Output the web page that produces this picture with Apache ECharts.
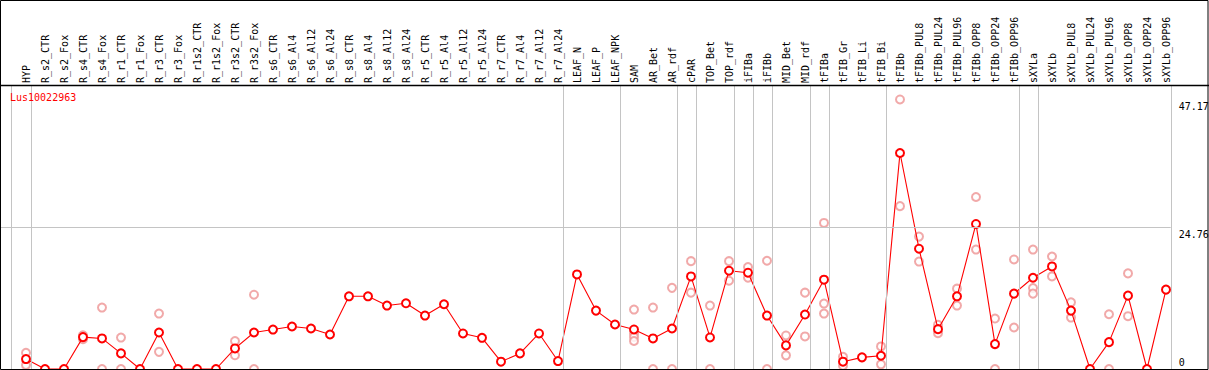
<!DOCTYPE html>
<html><head><meta charset="utf-8">
<script src="https://cdn.jsdelivr.net/npm/echarts@6/dist/echarts.min.js"></script>
<style>html,body{margin:0;padding:0;background:#fff}#c{width:1209px;height:370px}</style>
</head><body><div id="c"></div>
<script>
const geneName = 'Lus10022963';
const categories = ['HYP','R_s2_CTR','R_s2_Fox','R_s4_CTR','R_s4_Fox','R_r1_CTR','R_r1_Fox','R_r3_CTR','R_r3_Fox','R_r1s2_CTR','R_r1s2_Fox','R_r3s2_CTR','R_r3s2_Fox','R_s6_CTR','R_s6_Al4','R_s6_Al12','R_s6_Al24','R_s8_CTR','R_s8_Al4','R_s8_Al12','R_s8_Al24','R_r5_CTR','R_r5_Al4','R_r5_Al12','R_r5_Al24','R_r7_CTR','R_r7_Al4','R_r7_Al12','R_r7_Al24','LEAF_N','LEAF_P','LEAF_NPK','SAM','AR_Bet','AR_rdf','cPAR','TOP_Bet','TOP_rdf','iFIBa','iFIBb','MID_Bet','MID_rdf','tFIBa','tFIB_Gr','tFIB_Li','tFIB_Bi','tFIBb','tFIBb_PUL8','tFIBb_PUL24','tFIBb_PUL96','tFIBb_OPP8','tFIBb_OPP24','tFIBb_OPP96','sXYLa','sXYLb','sXYLb_PUL8','sXYLb_PUL24','sXYLb_PUL96','sXYLb_OPP8','sXYLb_OPP24','sXYLb_OPP96'];
const meanValues = [1.74,0,0,5.58,5.35,2.73,0,6.39,0,0,0,3.6,6.39,6.9,7.44,7.09,6.04,12.72,12.72,11.1,11.5,9.35,11.33,6.22,5.46,1.28,2.73,6.22,1.39,16.55,10.22,7.79,6.92,5.35,7.09,16.2,5.52,17.2,16.85,9.35,4.13,9.53,15.63,1.28,2.04,2.32,37.8,21.05,6.97,12.72,25.38,4.36,13.19,15.97,17.95,10.22,0,4.7,12.84,0,13.89];
const replicates = [[2.84,0.7],[],[],[5.9,5.2],[10.75,0],[5.5,0],[],[9.7,3.0],[],[],[],[4.9,2.4],[13.0,0],[],[],[],[],[],[],[],[],[],[],[],[],[],[],[],[],[],[],[],[10.4,6.2,5.6,4.9],[10.75,0],[14.2,0],[18.87,13.36],[11.1,0],[18.87,15.45],[17.83,15.97],[18.94,0],[5.87,2.39],[13.36,5.7],[25.56,11.45,9.7],[2.14,0.58],[],[3.95,0.82],[47.17,28.5],[23.17,18.8],[7.72,6.27],[14.06,11.1],[30.1,20.9],[8.83,0],[19.17,7.26],[20.9,14.17,13.19],[19.69,16.2],[11.67,9.0],[],[9.58,0],[16.73,9.24],[],[]];
const separators = [-0.8,0.25,28.25,31.25,34.25,35.25,37.25,38.25,39.25,41.25,42.25,45.25,52.25,53.25,60.25];
const gridYValues = [24.76];
const yTickValues = [47.17,24.76,0];
const yTickLabels = ['47.17','24.76','0'];

const FONT = 'DejaVu Sans Mono';
const X_MIN = -25/19, X_MAX = 60.25, Y_MAX = 49.7;
const chart = echarts.init(document.getElementById('c'), null, {renderer:'svg'});

const mainData = meanValues.map((v,i)=>[i,v]);
const repData = [];
replicates.forEach((arr,i)=>arr.forEach(v=>repData.push([i,v])));

chart.setOption({
  animation:false,
  title:{text:geneName,left:10,top:92,padding:0,textStyle:{fontFamily:FONT,fontSize:10,color:'#ff0000',fontWeight:'normal'}},
  grid:[{left:1,top:85,right:1209-1170.75,bottom:1},{left:16.5,right:33.5,top:85,height:10}],
  xAxis:[
    {type:'value',gridIndex:0,min:X_MIN,max:X_MAX,show:false},
    {type:'category',gridIndex:1,position:'top',data:categories,boundaryGap:true,
     axisLine:{show:false},axisTick:{show:false},splitLine:{show:false},
     axisLabel:{rotate:90,interval:0,margin:2,fontFamily:FONT,fontSize:10,color:'#000'}}
  ],
  yAxis:[
    {type:'value',gridIndex:0,min:0,max:Y_MAX,show:false},
    {type:'value',gridIndex:1,show:false}
  ],
  series:[
    {type:'scatter',xAxisIndex:0,yAxisIndex:0,data:[],z:1,silent:true,
     markLine:{silent:true,symbol:'none',label:{show:false},animation:false,
       lineStyle:{color:'#c4c4c4',width:1,type:'solid'},
       data:separators.map(x=>({xAxis:x})).concat(gridYValues.map(y=>({yAxis:y})))}},
    {type:'scatter',xAxisIndex:0,yAxisIndex:0,data:repData,z:2,symbol:'emptyCircle',symbolSize:8,
     itemStyle:{color:'#ee9494',borderColor:'#ee9494',borderWidth:1.3}},
    {type:'line',xAxisIndex:0,yAxisIndex:0,data:mainData,z:3,symbol:'emptyCircle',symbolSize:8,clip:false,
     lineStyle:{color:'#ff0000',width:1.1},itemStyle:{color:'#ff0000',borderColor:'#ff0000',borderWidth:1.6}}
  ]
});

const gx = chart.convertToPixel({xAxisIndex:0,yAxisIndex:0},[X_MAX,0])[0];
const g = [
  {type:'rect',shape:{x:0.5,y:0.5,width:1207.5,height:369},style:{fill:'none',stroke:'#000',lineWidth:1},z:10},
  {type:'line',shape:{x1:0,y1:85.5,x2:1209,y2:85.5},style:{stroke:'#000',lineWidth:1.5},z:10}
];
yTickValues.forEach((v,k)=>{
  const py = chart.convertToPixel({xAxisIndex:0,yAxisIndex:0},[X_MAX,v])[1];
  const isZero = v===0;
  g.push({type:'text',x:gx+8,y:isZero?py-2:py+2,z:10,
    style:{text:yTickLabels[k],fontFamily:FONT,fontSize:10,fill:'#000',align:'left',verticalAlign:isZero?'bottom':'top'}});
});
chart.setOption({graphic:g});
</script></body></html>
